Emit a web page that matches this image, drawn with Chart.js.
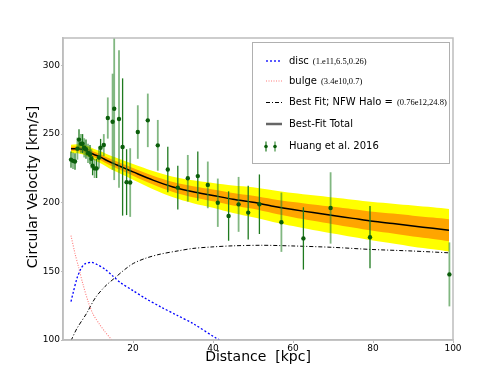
<!DOCTYPE html>
<html>
<head>
<meta charset="utf-8">
<script src="https://cdn.jsdelivr.net/npm/chart.js@4.4.1/dist/chart.umd.min.js"></script>
<style>
html,body{margin:0;padding:0;background:#fff;}
#c{display:block;}
</style>
</head>
<body>
<canvas id="c" width="504" height="378"></canvas>
<script>
// ---- data ----
const xTicks = [20, 40, 60, 80, 100];
const yTicks = [100, 150, 200, 250, 300];

const huangR = [4.5, 5.0, 5.5, 6.1, 6.5, 7.0, 7.4, 7.8, 8.25, 8.75, 9.25, 9.6, 9.9, 10.4, 10.9, 11.5, 11.9, 12.7, 13.7, 14.9, 15.3, 16.5, 17.4, 18.4, 19.3, 21.2, 23.7, 26.2, 28.7, 31.2, 33.7, 36.2, 38.7, 41.2, 43.9, 46.4, 48.8, 51.6, 57.1, 62.6, 69.4, 79.25, 99.1];
const huangV = [231.4, 230.5, 230, 239.4, 246, 243, 243, 240, 239, 236, 235, 232, 227, 225, 225, 233, 240, 242, 261.7, 259, 268.5, 261, 240.6, 215, 214.7, 251.5, 260, 241.8, 224.2, 211, 217.8, 219.4, 213, 200, 190.3, 198.8, 192.8, 198.9, 185.8, 174, 196.2, 174.9, 147.8];
const huangErr = [6, 6, 6, 8, 7.5, 7, 7, 7, 7, 7, 7, 7, 7, 7, 7, 8, 6.5, 8, 15, 35, 52, 50, 50, 24, 25, 19.5, 19.5, 18.5, 16.5, 16, 17, 18, 17, 17.6, 18, 20, 19.6, 21.7, 21.6, 22.7, 26, 22.7, 23.3];
const huangShade = ['d','l','d','l','d','l','d','l','d','l','d','l','d','l','d','l','d','l','l','l','l','l','d','d','l','l','l','l','d','d','l','d','l','l','d','l','d','d','l','d','l','d','l'];

const fitR    = [4.5, 6, 8, 10, 12, 14, 16, 18, 20, 25, 30, 35, 40, 45, 50, 55, 60, 65, 70, 75, 80, 85, 90, 95, 99];
const totalV  = [239.3, 239.3, 238.3, 235.5, 233, 230, 227.5, 225, 222.5, 216.5, 211.5, 208, 205.3, 202.5, 200.3, 197.5, 195, 192.8, 190.7, 188.6, 186.5, 184.8, 183, 181.4, 180];
const yellowHi = [242.3, 242.6, 242, 239.5, 237.4, 234.8, 232.6, 230.4, 228.2, 223.1, 219, 216.3, 214.3, 212.5, 211.2, 209, 207, 205.4, 203.8, 202.2, 200.5, 199.3, 198, 196.7, 195.5];
const yellowLo = [236.3, 236, 234.6, 231.5, 228.6, 225.2, 222.4, 219.6, 216.8, 209.9, 204, 199.7, 196.3, 192.5, 189.4, 186, 183, 180.2, 177.6, 175, 172.5, 170.3, 168, 166.1, 164.5];
const orangeHi = [240.8, 240.9, 240.1, 237.5, 235.2, 232.4, 230, 227.6, 225.3, 219.7, 215.1, 212, 209.6, 207, 205, 202.6, 200.5, 198.7, 197, 195.3, 193.5, 192.1, 190.6, 189.2, 188];
const orangeLo = [237.8, 237.7, 236.5, 233.5, 230.8, 227.6, 225, 222.4, 219.7, 213.3, 207.9, 204, 201, 198, 195.6, 192.4, 189.5, 186.9, 184.4, 181.9, 179.5, 177.5, 175.4, 173.6, 172];

const haloR = [4.5, 6, 8.4, 10.6, 13, 15.6, 18, 20.1, 23.1, 26.75, 31.4, 35, 39.75, 45, 52.25, 60, 70, 79.25, 90, 99];
const haloV = [99.5, 108.5, 119.4, 130.8, 139, 145.6, 151.5, 155.8, 159.5, 162.5, 165, 166.7, 167.8, 168.6, 169, 168.5, 167.5, 166, 164.8, 163.5];

const discR = [4.5, 5, 6, 7, 8, 9.7, 11, 13, 15, 17, 20, 23, 27, 31, 35, 41, 45];
const discV = [128, 134, 145, 152, 155.5, 156.5, 155, 151.5, 146.5, 141.5, 136, 130.5, 124, 118, 112, 101, 95];

const bulgeR = [4.5, 5.5, 6.4, 7.5, 8.9, 10, 11.5, 13, 14.6, 16];
const bulgeV = [176, 163, 153, 140.5, 127, 119, 112, 106, 100.5, 96];

const legendLabels = ['disc', 'bulge', 'Best Fit; NFW Halo =', 'Best-Fit Total', 'Huang et al. 2016'];
const legendParams = ['(1.e11,6.5,0.26)', '(3.4e10,0.7)', '(0.76e12,24.8)', '', ''];

// ---- helpers ----
const pts = (xs, ys) => xs.map((x, i) => ({x: x, y: ys[i]}));
const SANS = '"DejaVu Sans", sans-serif';
const SERIF = '"Liberation Serif", "DejaVu Serif", serif';
const DARK_ERR = '#1f7a1f';
const LIGHT_ERR = 'rgba(45,135,45,0.6)';
const BULGE = '#ff7a7a';

const errorBars = {
  id: 'errorBars',
  beforeDatasetDraw(chart, args) {
    if (args.index !== 0) return;
    const {ctx, scales: {x, y}, chartArea: a} = chart;
    ctx.save();
    ctx.beginPath();
    ctx.rect(a.left, a.top, a.right - a.left, a.bottom - a.top);
    ctx.clip();
    huangR.forEach((r, i) => {
      const px = x.getPixelForValue(r);
      ctx.strokeStyle = huangShade[i] === 'd' ? DARK_ERR : LIGHT_ERR;
      ctx.lineWidth = huangShade[i] === 'd' ? 1.3 : 1.8;
      ctx.beginPath();
      ctx.moveTo(px, y.getPixelForValue(huangV[i] + huangErr[i]));
      ctx.lineTo(px, y.getPixelForValue(huangV[i] - huangErr[i]));
      ctx.stroke();
    });
    ctx.restore();
  }
};

const frameAndText = {
  id: 'frameAndText',
  afterDraw(chart) {
    const {ctx, chartArea: a} = chart;
    ctx.save();
    // frame
    ctx.strokeStyle = '#bdbdbd';
    ctx.lineWidth = 1.5;
    ctx.strokeRect(a.left, a.top, a.right - a.left, a.bottom - a.top);
    // axis titles
    ctx.fillStyle = '#000';
    ctx.font = '14px ' + SANS;
    ctx.textAlign = 'center';
    ctx.textBaseline = 'middle';
    ctx.fillText('Distance  [kpc]', (a.left + a.right) / 2, 357);
    ctx.save();
    ctx.translate(33, 187);
    ctx.rotate(-Math.PI / 2);
    ctx.fillText('Circular Velocity [km/s]', 0, 0);
    ctx.restore();

    // legend
    const L = 252, T = 42, W = 197, H = 121;
    ctx.fillStyle = '#fff';
    ctx.fillRect(L, T, W, H);
    ctx.strokeStyle = '#b0b0b0';
    ctx.lineWidth = 1;
    ctx.strokeRect(L + 0.5, T + 0.5, W, H);
    const rows = [61, 81, 102.5, 124, 146.5];
    const hx0 = 266, hx1 = 282, tx = 289;
    ctx.lineWidth = 1.3;
    // disc
    ctx.strokeStyle = 'blue'; ctx.setLineDash([2, 2]);
    ctx.beginPath(); ctx.moveTo(hx0, rows[0]); ctx.lineTo(hx1, rows[0]); ctx.stroke();
    // bulge
    ctx.strokeStyle = BULGE; ctx.setLineDash([1, 1.5]); ctx.lineWidth = 1.1;
    ctx.beginPath(); ctx.moveTo(hx0, rows[1]); ctx.lineTo(hx1, rows[1]); ctx.stroke();
    // halo
    ctx.strokeStyle = '#000'; ctx.setLineDash([4, 2, 1, 2]); ctx.lineWidth = 1;
    ctx.beginPath(); ctx.moveTo(hx0, rows[2]); ctx.lineTo(hx1, rows[2]); ctx.stroke();
    // total
    ctx.setLineDash([]); ctx.strokeStyle = '#666'; ctx.lineWidth = 2.5;
    ctx.beginPath(); ctx.moveTo(hx0, rows[3]); ctx.lineTo(hx1, rows[3]); ctx.stroke();
    // huang markers
    [[266, DARK_ERR, 1.2], [275, LIGHT_ERR, 1.8]].forEach(([mx, col, lw]) => {
      ctx.strokeStyle = col; ctx.lineWidth = lw;
      ctx.beginPath(); ctx.moveTo(mx, rows[4] - 5); ctx.lineTo(mx, rows[4] + 5); ctx.stroke();
      ctx.fillStyle = '#0b5e0b';
      ctx.beginPath(); ctx.arc(mx, rows[4], 1.8, 0, Math.PI * 2); ctx.fill();
    });
    // legend text
    ctx.textAlign = 'left';
    ctx.textBaseline = 'middle';
    legendLabels.forEach((lab, i) => {
      ctx.fillStyle = '#000';
      ctx.font = '10px ' + SANS;
      ctx.fillText(lab, tx, rows[i]);
      const w = ctx.measureText(lab).width;
      if (legendParams[i]) {
        ctx.font = '8.5px ' + SERIF;
        ctx.fillText(legendParams[i], tx + w + 4, rows[i] + 0.5);
      }
    });
    ctx.restore();
  }
};

const lineDs = (label, xs, ys, color, width, dash) => ({
  label, data: pts(xs, ys), showLine: true, borderColor: color, borderWidth: width,
  borderDash: dash, pointRadius: 0, fill: false, clip: 0, tension: 0.3
});

new Chart(document.getElementById('c'), {
  type: 'scatter',
  data: {
    datasets: [
      { label: 'Huang et al. 2016', data: pts(huangR, huangV), pointRadius: 2.2,
        pointBackgroundColor: '#0b5e0b', pointBorderColor: '#0b5e0b', pointBorderWidth: 0, showLine: false },
      lineDs('Best-Fit Total', fitR, totalV, '#000', 1.5, []),
      lineDs('disc', discR, discV, 'blue', 1.3, [2, 2]),
      lineDs('bulge', bulgeR, bulgeV, BULGE, 1.1, [1, 1.5]),
      lineDs('halo', haloR, haloV, '#000', 1, [4, 2, 1, 2]),
      { label: 'orangeHi', data: pts(fitR, orangeHi), showLine: true, borderWidth: 0, pointRadius: 0,
        backgroundColor: '#ffa500', fill: '+1', clip: 0, tension: 0.3 },
      { label: 'orangeLo', data: pts(fitR, orangeLo), showLine: true, borderWidth: 0, pointRadius: 0, fill: false, clip: 0, tension: 0.3 },
      { label: 'yellowHi', data: pts(fitR, yellowHi), showLine: true, borderWidth: 0, pointRadius: 0,
        backgroundColor: '#ffff00', fill: '+1', clip: 0, tension: 0.3 },
      { label: 'yellowLo', data: pts(fitR, yellowLo), showLine: true, borderWidth: 0, pointRadius: 0, fill: false, clip: 0, tension: 0.3 }
    ]
  },
  options: {
    responsive: false,
    animation: false,
    devicePixelRatio: 1,
    layout: { padding: { left: 0, right: 51, top: 38, bottom: 0 } },
    plugins: { legend: { display: false }, tooltip: { enabled: false } },
    scales: {
      x: {
        type: 'linear', min: 2.5, max: 100,
        afterBuildTicks: s => { s.ticks = xTicks.map(v => ({value: v})); },
        afterFit: s => { s.height = 38; },
        grid: { display: true, drawOnChartArea: false, drawTicks: true, tickLength: 3, color: '#bdbdbd' },
        border: { display: true, color: '#bdbdbd', width: 1.5 },
        ticks: { font: { family: SANS, size: 9 }, color: '#000', padding: 0, maxRotation: 0 }
      },
      y: {
        type: 'linear', min: 100, max: 320,
        afterBuildTicks: s => { s.ticks = yTicks.map(v => ({value: v})); },
        afterFit: s => { s.width = 63; },
        grid: { display: true, drawOnChartArea: false, drawTicks: true, tickLength: 2, color: '#bdbdbd' },
        border: { display: true, color: '#bdbdbd', width: 1.5 },
        ticks: { font: { family: SANS, size: 9 }, color: '#000', padding: 1 }
      }
    }
  },
  plugins: [errorBars, frameAndText]
});
</script>
</body>
</html>
